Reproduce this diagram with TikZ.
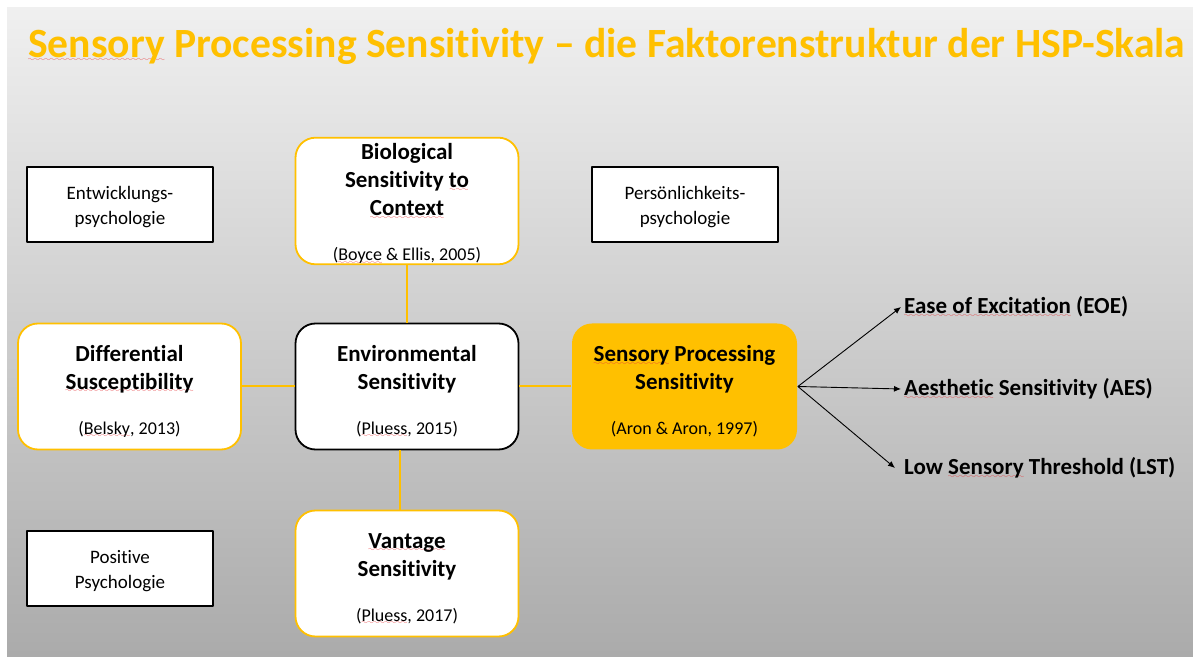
\documentclass[tikz,border=0pt]{standalone}
\usepackage{fontspec}
\setmainfont{Carlito}[Ligatures=NoCommon]
\usetikzlibrary{arrows.meta}
\definecolor{gold}{HTML}{FFC000}
\definecolor{squigred}{HTML}{E8383C}
\font\squigfont=lasy10 scaled 800
\newsavebox{\squigbox}
\newcommand{\squig}[1]{\sbox{\squigbox}{#1}\rlap{\color{squigred}\lower3.6bp\hbox to \wd\squigbox{\xleaders\hbox{\squigfont\char58}\hfill}}\usebox{\squigbox}}
\newcommand{\reffont}{\fontsize{18bp}{21bp}\selectfont\mdseries}
\newcommand{\topgap}[1]{\rule{0pt}{#1}}
\tikzset{
  fieldbox/.style={draw=black,line width=1.8bp,fill=white,minimum width=186bp,minimum height=75bp,align=center,font=\fontsize{19bp}{25bp}\selectfont},
  conceptbox/.style={draw=gold,line width=1.8bp,fill=white,rounded corners=20bp,minimum width=223bp,minimum height=126bp,align=center,inner sep=1bp,font=\fontsize{23bp}{28bp}\selectfont\bfseries},
  facetlabel/.style={anchor=west,inner sep=3bp,font=\fontsize{23bp}{27bp}\selectfont\bfseries},
  link/.style={draw=gold,line width=2bp},
}
\begin{document}
\begin{tikzpicture}[>={Latex[length=7bp,width=6bp]},line join=bevel]
\useasboundingbox (0,0) rectangle (1193bp,657bp);
\shade[top color=black!6,bottom color=black!33] (7bp,0bp) rectangle (1193bp,649bp);
%%
\node (title) at (28bp,599bp) [anchor=base west,inner sep=0pt,text=gold,font=\fontsize{41.6bp}{48bp}\selectfont\bfseries] {\squig{Sensory} Processing Sensitivity -- die Faktorenstruktur der HSP-Skala};
%
\node (devpsy) at (120bp,452.5bp) [fieldbox] {\topgap{18bp}Entwicklungs-\\psychologie};
\node (perspsy) at (685bp,452.5bp) [fieldbox] {\topgap{18bp}Persönlichkeits-\\psychologie};
\node (pospsy) at (120bp,88.5bp) [fieldbox] {\topgap{19bp}Positive\\Psychologie};
%
\node (bsc) at (407bp,456bp) [conceptbox,inner ysep=0pt] {\topgap{22bp}Biological\\Sensitivity \squig{to}\\\squig{Context}\\[17bp]\reffont(\squig{Boyce} \& Ellis, 2005)};
\node (diffsus) at (129.5bp,270.5bp) [conceptbox] {\topgap{26bp}Differential\\\squig{Susceptibility}\\[17bp]\reffont(\squig{Belsky}, 2013)};
\node (envsens) at (407bp,270.5bp) [conceptbox,draw=black] {\topgap{26bp}Environmental\\Sensitivity\\[17bp]\reffont(\squig{Pluess}, 2015)};
\node (vantage) at (407bp,83.5bp) [conceptbox] {\topgap{26bp}\squig{Vantage}\\Sensitivity\\[17bp]\reffont(\squig{Pluess}, 2017)};
\node (sps) at (684.5bp,270.5bp) [conceptbox,draw=none,fill=gold,minimum width=225bp] {\topgap{26bp}\squig{Sensory} Processing\\Sensitivity\\[17bp]\reffont(Aron \& Aron, 1997)};
%
\node (eoe) at (901bp,350bp) [facetlabel] {\squig{Ease of Excitation} (EOE)};
\node (aes) at (901bp,268bp) [facetlabel] {\squig{Aesthetic} Sensitivity (AES)};
\node (lst) at (901bp,189bp) [facetlabel] {Low \squig{Sensory} Threshold (LST)};
%
\draw [link] (bsc) -- (envsens);
\draw [link] (diffsus) -- (envsens);
\draw [link] (envsens) -- (sps);
\draw [link] ([xshift=-7bp]envsens.south) -- ([xshift=-7bp]vantage.north);
\draw [black,->,line width=0.9bp] (sps.east) -- (eoe.west);
\draw [black,->,line width=0.9bp] (sps.east) -- (aes.west);
\draw [black,->,line width=0.9bp] (sps.east) -- ([xshift=-6bp]lst.west);
%
\end{tikzpicture}
\end{document}
